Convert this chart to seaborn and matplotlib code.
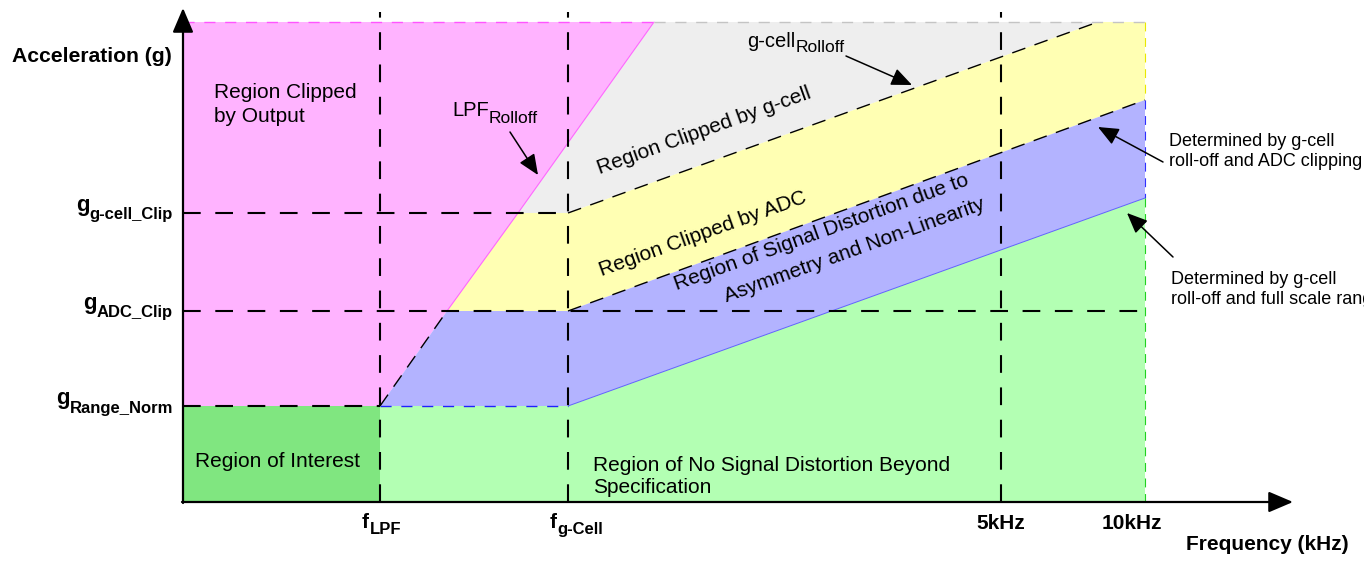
import matplotlib
matplotlib.use('Agg')
import matplotlib.pyplot as plt
import seaborn as sns

# drawing units: origin of the axes at (0, 0)
freq_marks = [1.97, 3.85, 8.18]          # f_LPF, f_g-Cell, 5kHz
freq_end = 9.62                           # 10kHz, right edge of the regions
g_levels = [0.96, 1.91, 2.89]             # g_Range_Norm, g_ADC_Clip, g_g-cell_Clip
g_top = 4.80

# region boundaries
lpf_x = [1.97, 2.64, 3.35, 4.71]
lpf_y = [0.96, 1.91, 2.89, 4.80]
norm_x = [1.97, 3.85, 9.62]
norm_y = [0.96, 0.96, 3.04]
adc_x = [2.64, 3.85, 9.62]
adc_y = [1.91, 1.91, 4.02]
gcell_x = [3.35, 3.85, 9.15, 9.62]
gcell_y = [2.89, 2.89, 4.80, 4.80]

x_main = ['f', 'f']
x_subs = ['LPF', 'g-Cell']
x_plain = ['5kHz', '10kHz']
y_subs = ['Range_Norm', 'ADC_Clip', 'g-cell_Clip']

sns.set_theme(style='white')
plt.rcParams['font.family'] = ['Liberation Sans', 'DejaVu Sans']
plt.rcParams['text.color'] = 'black'

fig = plt.figure(figsize=(13.64, 5.61), dpi=100)
ax = fig.add_axes([0, 0, 1, 1])
ax.set_xlim(-1.83, 11.81)
ax.set_ylim(-0.59, 5.02)
ax.axis('off')

# coloured regions
ax.fill([0] + lpf_x + [0], [g_levels[0]] + lpf_y + [g_top], color='#FFB3FF', lw=0)
ax.fill(lpf_x[2:] + gcell_x[2::-1], lpf_y[2:] + gcell_y[2::-1], color='#EEEEEE', lw=0)
ax.fill(lpf_x[1:3] + gcell_x[1:] + adc_x[::-1], lpf_y[1:3] + gcell_y[1:] + adc_y[::-1],
        color='#FFFFB3', lw=0)
ax.fill(lpf_x[:2] + adc_x[1:] + norm_x[::-1], lpf_y[:2] + adc_y[1:] + norm_y[::-1],
        color='#B3B3FF', lw=0)
ax.fill(norm_x + [freq_end, norm_x[0]], norm_y + [0, 0], color='#B3FFB3', lw=0)
ax.fill([0, freq_marks[0], freq_marks[0], 0], [0, 0, g_levels[0], g_levels[0]],
        color='#80E680', lw=0)


def line(x, y, color='black', lw=1.5, dash=(8.5, 7)):
    ls = (0, dash) if dash else '-'
    sns.lineplot(x=x, y=y, ax=ax, color=color, lw=lw, linestyle=ls,
                 estimator=None, sort=False, legend=False)


# thin region borders
line(lpf_x[1:], lpf_y[1:], color='#FF66FF', lw=0.8, dash=None)
line(norm_x[1:], norm_y[1:], color='#6060FF', lw=0.7, dash=None)
line([0, lpf_x[-1]], [g_top, g_top], color='#FF55FF', lw=1.0, dash=(8, 7))
line([lpf_x[-1], freq_end], [g_top, g_top], color='#C4C4C4', lw=1.0, dash=(8, 7))
line([freq_end, freq_end], [g_top, adc_y[-1]], color='#E8E800', lw=0.8, dash=(8, 6))
line([freq_end, freq_end], [adc_y[-1], norm_y[-1]], color='#3030FF', lw=0.8, dash=(8, 6))
line([freq_end, freq_end], [norm_y[-1], 0], color='#20D020', lw=0.8, dash=(8, 6))
line(norm_x[:2], norm_y[:2], color='#2020FF', lw=1.0, dash=(8, 7))

# roll-off lines
line(lpf_x[:2], lpf_y[:2], lw=1.0, dash=(10, 7))
line(gcell_x[1:3], gcell_y[1:3], lw=1.0, dash=(10, 7))
line(adc_x[1:], adc_y[1:], lw=1.0, dash=(10, 7))

# level and frequency guides
line([0, freq_marks[0]], [g_levels[0]] * 2)
line([0, freq_end + 0.03], [g_levels[1]] * 2)
line([0, freq_marks[1]], [g_levels[2]] * 2)
for fx in freq_marks:
    line([fx, fx], [0, 4.90])

# axes with arrows
arrow = dict(arrowstyle='-|>,head_length=0.75,head_width=0.32', mutation_scale=20,
             color='black', lw=1.6, shrinkA=0, shrinkB=0)
ax.annotate('', xy=(11.10, 0), xytext=(-0.01, 0), arrowprops=arrow)
ax.annotate('', xy=(0, 4.94), xytext=(0, -0.01), arrowprops=arrow)

# axis texts
ax.text(-0.11, 4.40, 'Acceleration (g)', fontsize=15.2, fontweight='bold',
        ha='right', va='baseline')
ax.text(10.03, -0.48, 'Frequency (kHz)', fontsize=15, fontweight='bold',
        ha='left', va='baseline')

for lvl, sub in zip(g_levels, y_subs):
    t = ax.text(-0.10, lvl - 0.065, sub, fontsize=12, fontweight='bold',
                ha='right', va='baseline')
    ax.annotate('g', xy=(0, 0), xycoords=t, xytext=(0, 5), textcoords='offset points',
                fontsize=16, fontweight='bold', ha='right', va='bottom')

for fx, m, sub in zip(freq_marks[:2], x_main, x_subs):
    t = ax.text(fx - 0.18, -0.26, m, fontsize=15, fontweight='bold',
                ha='left', va='baseline')
    ax.annotate(sub, xy=(1, 0), xycoords=t, xytext=(0.5, -3.4), textcoords='offset points',
                fontsize=12, fontweight='bold', ha='left', va='bottom')

for fx, lab in zip([freq_marks[2], 9.49], x_plain):
    ax.text(fx, -0.27, lab, fontsize=15, fontweight='bold', ha='center', va='baseline')

# region labels (baseline of multi-line text is the last line)
fs = 15
ax.text(0.31, 3.80, 'Region Clipped\nby Output', fontsize=fs, ha='left', va='baseline',
        linespacing=1.3)
ax.text(0.12, 0.35, 'Region of Interest', fontsize=fs, ha='left', va='baseline')
ax.text(4.10, 0.09, 'Region of No Signal Distortion Beyond\nSpecification', fontsize=fs,
        ha='left', va='baseline')
rot = 19.8
for (tx, ty), s in zip([(5.21, 3.71), (5.20, 2.68), (6.38, 2.70), (6.72, 2.52)],
                       ['Region Clipped by g-cell', 'Region Clipped by ADC',
                        'Region of Signal Distortion due to', 'Asymmetry and Non-Linearity']):
    ax.text(tx, ty, s, fontsize=fs, rotation=rot, rotation_mode='anchor',
            ha='center', va='center')

# roll-off callouts
t = ax.text(2.69, 3.86, 'LPF', fontsize=14.5, ha='left', va='baseline')
ax.annotate('Rolloff', xy=(1, 0), xycoords=t, xytext=(0, -4.5), textcoords='offset points',
            fontsize=12.5, ha='left', va='bottom')
t = ax.text(5.64, 4.55, 'g-cell', fontsize=14.5, ha='left', va='baseline')
ax.annotate('Rolloff', xy=(1, 0), xycoords=t, xytext=(0, -3), textcoords='offset points',
            fontsize=12.5, ha='left', va='bottom')

pointer = dict(arrowstyle='-|>,head_length=0.7,head_width=0.3', mutation_scale=18,
               color='black', lw=1.1, shrinkA=0, shrinkB=0)
ax.annotate('', xy=(3.55, 3.27), xytext=(3.27, 3.70), arrowprops=pointer)
ax.annotate('', xy=(7.29, 4.17), xytext=(6.63, 4.46), arrowprops=pointer)
ax.annotate('', xy=(9.15, 3.75), xytext=(9.80, 3.40), arrowprops=pointer)
ax.annotate('', xy=(9.44, 2.89), xytext=(9.90, 2.45), arrowprops=pointer)

ax.text(9.86, 3.36, 'Determined by g-cell\nroll-off and ADC clipping', fontsize=13,
        ha='left', va='baseline', linespacing=1.25)
ax.text(9.88, 1.98, 'Determined by g-cell\nroll-off and full scale range', fontsize=13,
        ha='left', va='baseline', linespacing=1.25)

fig.savefig('out.png', dpi=100)
